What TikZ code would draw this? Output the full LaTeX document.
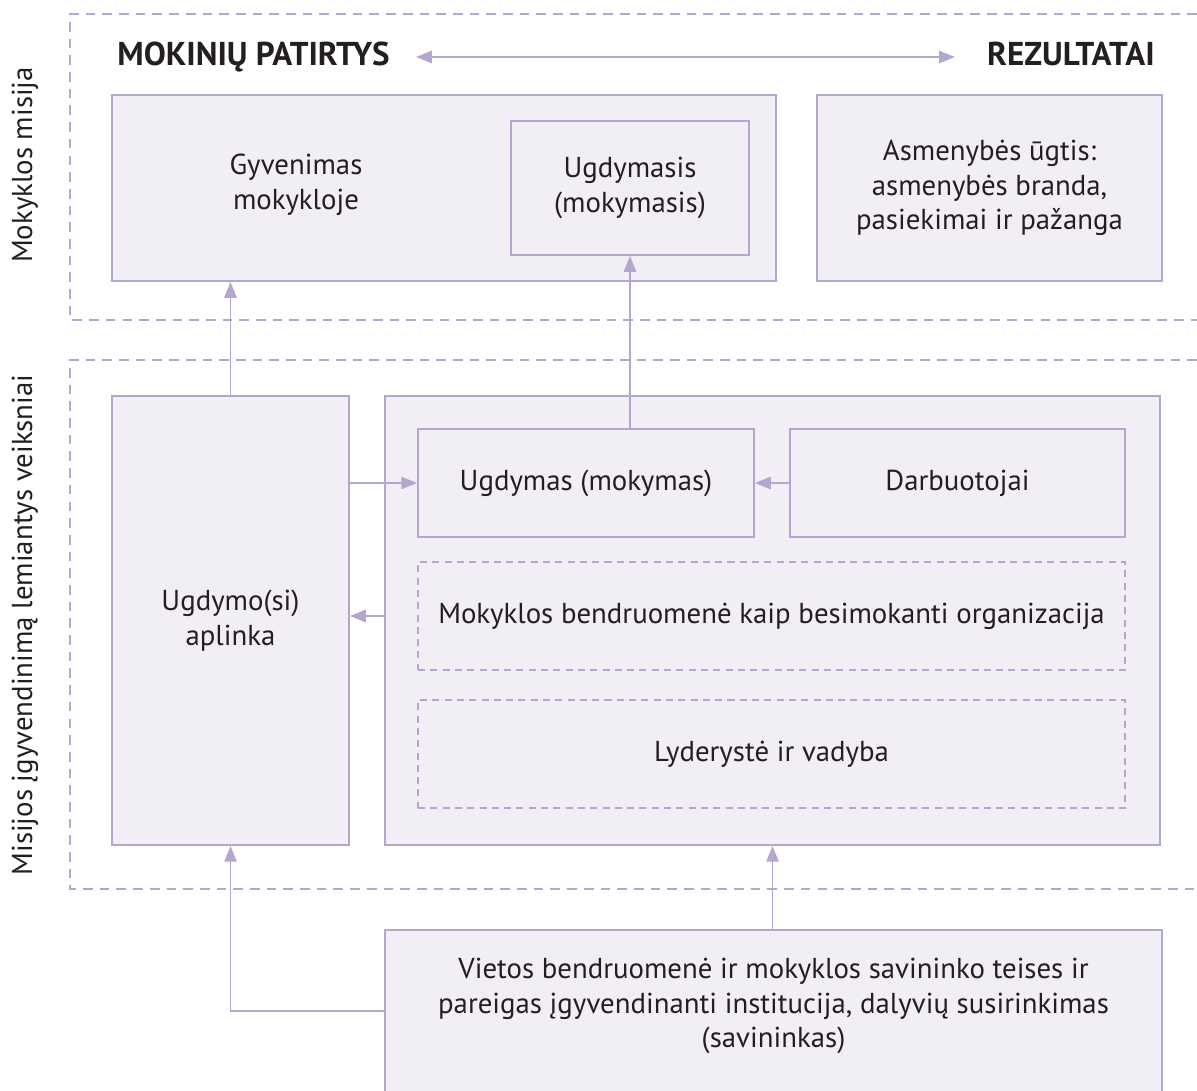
\documentclass[tikz,border=0pt]{standalone}
\usepackage{fontspec}
\setmainfont{PT Sans}
\usetikzlibrary{arrows.meta}
\definecolor{lav}{HTML}{B4A7CF}
\definecolor{lavfill}{HTML}{F1EEF6}
\definecolor{ink}{HTML}{231F20}
\begin{document}
\begin{tikzpicture}[x=0.02cm,y=-0.02cm,
  every node/.style={text=ink, font=\fontsize{16.4}{19.6}\selectfont},
  box/.style={draw=lav, line width=1.1pt, fill=lavfill, inner sep=0pt, align=center},
  dbox/.style={draw=lav, line width=0.8pt, dash pattern=on 4pt off 3pt, inner sep=0pt, align=center},
  zone/.style={draw=lav, line width=1.1pt, dash pattern=on 5.5pt off 4pt},
  arr/.style={draw=lav, line width=1.1pt, -{Triangle[length=9pt,width=7pt]}},
  head/.style={font=\fontsize{18.8}{22}\selectfont\bfseries, inner sep=0pt},
  side/.style={rotate=90, inner sep=0pt}]
\clip (0,0) rectangle (1197,1091);

% dashed zones, open to the right
\draw[zone] (1197,14) -- (70,14) -- (70,320) -- (1197,320);
\draw[zone] (1197,360) -- (70,360) -- (70,889) -- (1197,889);

% side captions
\node[side] (mis) at (25,165) {Mokyklos misija};
\node[side] (veik) at (25,625) {Misijos įgyvendinimą lemiantys veiksniai};

% header line, both titles on one baseline
\node[head, anchor=base west] (pat) at (117,66) {MOKINIŲ PATIRTYS};
\node[head, anchor=base east] (rez) at (1155,66) {REZULTATAI};
\coordinate (axis) at (0,57);
\draw[draw=lav, line width=1.1pt, {Triangle[length=9pt,width=7pt]}-{Triangle[length=9pt,width=7pt]}]
  ([xshift=0.52cm]pat.east |- axis) -- ([xshift=-0.64cm]rez.west |- axis);

% mission row
\node[box, minimum width=13.28cm, minimum height=3.72cm] (gyv) at (444,188) {};
\node[align=center] (gyvt) at (296,185) {Gyvenimas\\mokykloje};
\node[box, minimum width=4.76cm, minimum height=2.68cm] (ugs) at (630,188) {Ugdymasis\\(mokymasis)};
\node[box, minimum width=6.9cm, minimum height=3.72cm] (asm) at (989.5,188) {Asmenybės ūgtis:\\asmenybės branda,\\pasiekimai ir pažanga};

% factors
\node[box, minimum width=4.74cm, minimum height=8.98cm] (apl) at (230.5,620.5) {Ugdymo(si)\\aplinka};
\node[box, minimum width=15.5cm, minimum height=8.98cm] (big) at (772.5,620.5) {};
\node[box, minimum width=6.72cm, minimum height=2.16cm] (ugd) at (586,483) {Ugdymas (mokymas)};
\node[box, minimum width=6.7cm, minimum height=2.16cm] (darb) at (957.5,483) {Darbuotojai};
\node[dbox, minimum width=14.14cm, minimum height=2.16cm] (bendr) at (771.5,616) {Mokyklos bendruomenė kaip besimokanti organizacija};
\node[dbox, minimum width=14.14cm, minimum height=2.16cm] (lyd) at (771.5,754) {Lyderystė ir vadyba};

% owner
\node[box, minimum width=15.54cm, minimum height=3.8cm] (sav) at (773.5,1025) {};
\node[align=center] (savt) at (773.5,1006) {Vietos bendruomenė ir mokyklos savininko teises ir\\pareigas įgyvendinanti institucija, dalyvių susirinkimas\\(savininkas)};

% connectors
\draw[arr] (apl.north) -- (apl.north |- gyv.south);
\draw[arr] (ugs.south |- ugd.north) -- (ugs.south);
\draw[arr] (apl.east |- ugd.west) -- (ugd.west);
\draw[arr] (darb.west) -- (ugd.east);
\draw[arr] (big.west |- bendr.west) -- (apl.east |- bendr.west);
\coordinate (turn) at (230.5,1011);
\draw[arr] (sav.west |- turn) -- (turn) -- (apl.south);
\draw[arr] (big.south |- sav.north) -- (big.south);
\end{tikzpicture}
\end{document}
